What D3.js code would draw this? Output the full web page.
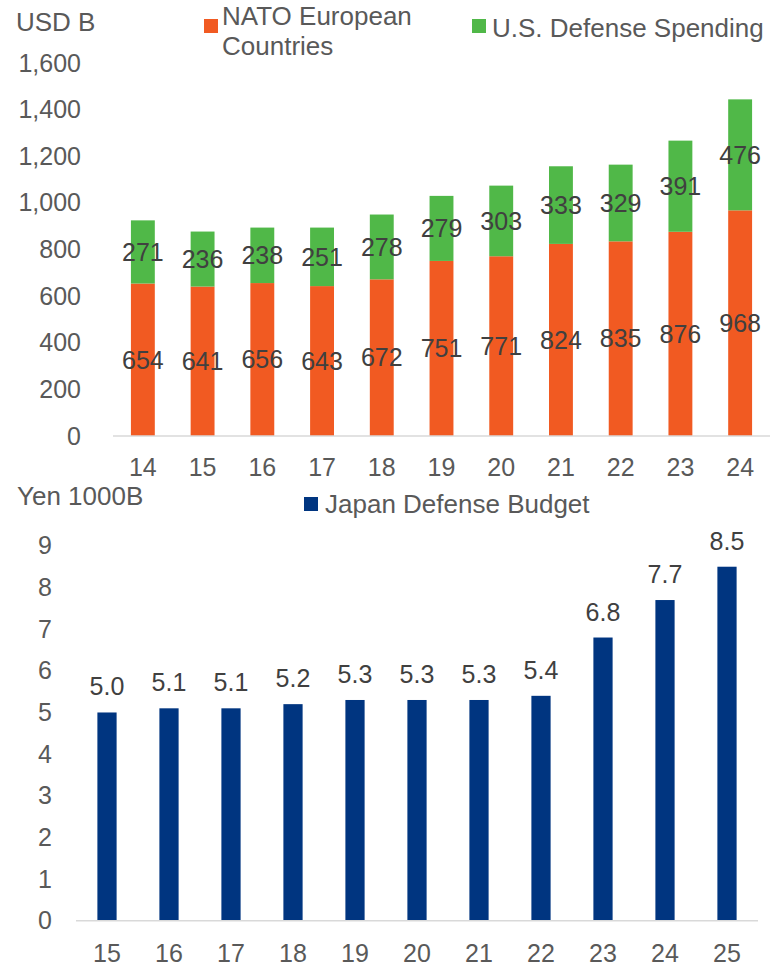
<!DOCTYPE html>
<html>
<head>
<meta charset="utf-8">
<script src="https://cdn.jsdelivr.net/npm/d3@7"></script>
<style>
  html, body { margin: 0; padding: 0; background: #fff; }
  svg { display: block; font-family: "Liberation Sans", Arial, sans-serif; }
</style>
</head>
<body>
<svg id="chart" width="771" height="966"></svg>
<script>
// Defense spending: NATO Europe + U.S. (USD B), and Japan's defense budget (Yen 1000B)
const years = ["14", "15", "16", "17", "18", "19", "20", "21", "22", "23", "24"];
const natoEurope = [654, 641, 656, 643, 672, 751, 771, 824, 835, 876, 968];
const usSpending = [271, 236, 238, 251, 278, 279, 303, 333, 329, 391, 476];
const usdTicks = [0, 200, 400, 600, 800, 1000, 1200, 1400, 1600];

const fiscalYears = ["15", "16", "17", "18", "19", "20", "21", "22", "23", "24", "25"];
const japanBudget = [5.0, 5.1, 5.1, 5.2, 5.3, 5.3, 5.3, 5.4, 6.8, 7.7, 8.5];
const yenTicks = [0, 1, 2, 3, 4, 5, 6, 7, 8, 9];

const ORANGE = "#F15A22", GREEN = "#50B848", NAVY = "#003580";
const AXIS_TEXT = "#595959", VALUE_TEXT = "#404040", GRID = "#D9D9D9";
const FS = 25;      // tick and value labels
const FS_LEG = 26;  // legend and unit captions

const svg = d3.select("#chart");

// ---------- Upper chart: stacked bars ----------
const upper = svg.append("g");
const x1 = d3.scaleBand().domain(years).range([113, 770]).paddingInner(0.6).paddingOuter(0.3);
const y1 = d3.scaleLinear().domain([0, 1600]).range([436, 63]);

const stacked = years.map((yr, i) => ({ yr, nato: natoEurope[i], us: usSpending[i] }));

upper.selectAll("rect.nato").data(stacked).join("rect")
  .attr("class", "nato")
  .attr("x", d => x1(d.yr)).attr("width", x1.bandwidth())
  .attr("y", d => y1(d.nato)).attr("height", d => y1(0) - y1(d.nato))
  .attr("fill", ORANGE);

upper.selectAll("rect.us").data(stacked).join("rect")
  .attr("class", "us")
  .attr("x", d => x1(d.yr)).attr("width", x1.bandwidth())
  .attr("y", d => y1(d.nato + d.us)).attr("height", d => y1(d.nato) - y1(d.nato + d.us))
  .attr("fill", GREEN);

// y axis labels
const yAxis1 = d3.axisLeft(y1).tickValues(usdTicks).tickFormat(d3.format(",")).tickSize(0).tickPadding(0);
upper.append("g").attr("transform", "translate(81,0)").call(yAxis1)
  .call(g => g.select(".domain").remove())
  .call(g => g.selectAll("text").attr("fill", AXIS_TEXT).style("font-size", FS + "px")
    .style("font-family", "Liberation Sans, Arial, sans-serif"));

// baseline
upper.append("line").attr("x1", 113).attr("x2", 770).attr("y1", y1(0)).attr("y2", y1(0))
  .attr("stroke", GRID).attr("stroke-width", 1.5);

// x axis labels
const xAxis1 = d3.axisBottom(x1).tickSize(0).tickPadding(0);
upper.append("g").attr("transform", `translate(0,${y1(0)})`).call(xAxis1)
  .call(g => g.select(".domain").remove())
  .call(g => g.selectAll("text").attr("fill", AXIS_TEXT).attr("dy", null).attr("y", 40)
    .style("font-size", FS + "px").style("font-family", "Liberation Sans, Arial, sans-serif"));

// value labels, centred in each segment
upper.selectAll("text.vn").data(stacked).join("text")
  .attr("class", "vn")
  .attr("x", d => x1(d.yr) + x1.bandwidth() / 2)
  .attr("y", d => (y1(0) + y1(d.nato)) / 2)
  .attr("dy", "0.35em").attr("text-anchor", "middle")
  .attr("fill", VALUE_TEXT).style("font-size", FS + "px")
  .text(d => d.nato);

upper.selectAll("text.vu").data(stacked).join("text")
  .attr("class", "vu")
  .attr("x", d => x1(d.yr) + x1.bandwidth() / 2)
  .attr("y", d => (y1(d.nato) + y1(d.nato + d.us)) / 2)
  .attr("dy", "0.35em").attr("text-anchor", "middle")
  .attr("fill", VALUE_TEXT).style("font-size", FS + "px")
  .text(d => d.us);

// unit + legend
upper.append("text").attr("x", 16).attr("y", 31).attr("fill", AXIS_TEXT)
  .style("font-size", FS_LEG + "px").text("USD B");

upper.append("rect").attr("x", 204).attr("y", 19).attr("width", 14).attr("height", 14).attr("fill", ORANGE);
const natoLabel = upper.append("text").attr("x", 222).attr("y", 24.5).attr("fill", AXIS_TEXT)
  .style("font-size", FS_LEG + "px");
natoLabel.append("tspan").attr("x", 222).text("NATO European");
natoLabel.append("tspan").attr("x", 222).attr("dy", 30).text("Countries");

upper.append("rect").attr("x", 472).attr("y", 19).attr("width", 14).attr("height", 14).attr("fill", GREEN);
upper.append("text").attr("x", 492).attr("y", 36.5).attr("fill", AXIS_TEXT)
  .style("font-size", FS_LEG + "px").text("U.S. Defense Spending");

// ---------- Lower chart: Japan budget ----------
const lower = svg.append("g");
const x2 = d3.scaleBand().domain(fiscalYears).range([76, 758]).paddingInner(0.69).paddingOuter(0.345);
const y2 = d3.scaleLinear().domain([0, 9]).range([920.7, 545.9]);

const jp = fiscalYears.map((yr, i) => ({ yr, v: japanBudget[i] }));

lower.selectAll("rect.jp").data(jp).join("rect")
  .attr("class", "jp")
  .attr("x", d => x2(d.yr)).attr("width", x2.bandwidth())
  .attr("y", d => y2(d.v)).attr("height", d => y2(0) - y2(d.v))
  .attr("fill", NAVY);

const yAxis2 = d3.axisLeft(y2).tickValues(yenTicks).tickFormat(d3.format("d")).tickSize(0).tickPadding(0);
lower.append("g").attr("transform", "translate(52,0)").call(yAxis2)
  .call(g => g.select(".domain").remove())
  .call(g => g.selectAll("text").attr("fill", AXIS_TEXT).style("font-size", FS + "px")
    .style("font-family", "Liberation Sans, Arial, sans-serif"));

lower.append("line").attr("x1", 76).attr("x2", 758).attr("y1", y2(0)).attr("y2", y2(0))
  .attr("stroke", GRID).attr("stroke-width", 1.5);

const xAxis2 = d3.axisBottom(x2).tickSize(0).tickPadding(0);
lower.append("g").attr("transform", `translate(0,${y2(0)})`).call(xAxis2)
  .call(g => g.select(".domain").remove())
  .call(g => g.selectAll("text").attr("fill", AXIS_TEXT).attr("dy", null).attr("y", 41)
    .style("font-size", FS + "px").style("font-family", "Liberation Sans, Arial, sans-serif"));

lower.selectAll("text.vj").data(jp).join("text")
  .attr("class", "vj")
  .attr("x", d => x2(d.yr) + x2.bandwidth() / 2)
  .attr("y", d => y2(d.v) - 17)
  .attr("text-anchor", "middle")
  .attr("fill", VALUE_TEXT).style("font-size", FS + "px")
  .text(d => d3.format(".1f")(d.v));

lower.append("text").attr("x", 17).attr("y", 505).attr("fill", AXIS_TEXT)
  .style("font-size", FS_LEG + "px").text("Yen 1000B");

lower.append("rect").attr("x", 304).attr("y", 497).attr("width", 14).attr("height", 14).attr("fill", NAVY);
lower.append("text").attr("x", 325).attr("y", 513).attr("fill", AXIS_TEXT)
  .style("font-size", FS_LEG + "px").text("Japan Defense Budget");
</script>
</body>
</html>
